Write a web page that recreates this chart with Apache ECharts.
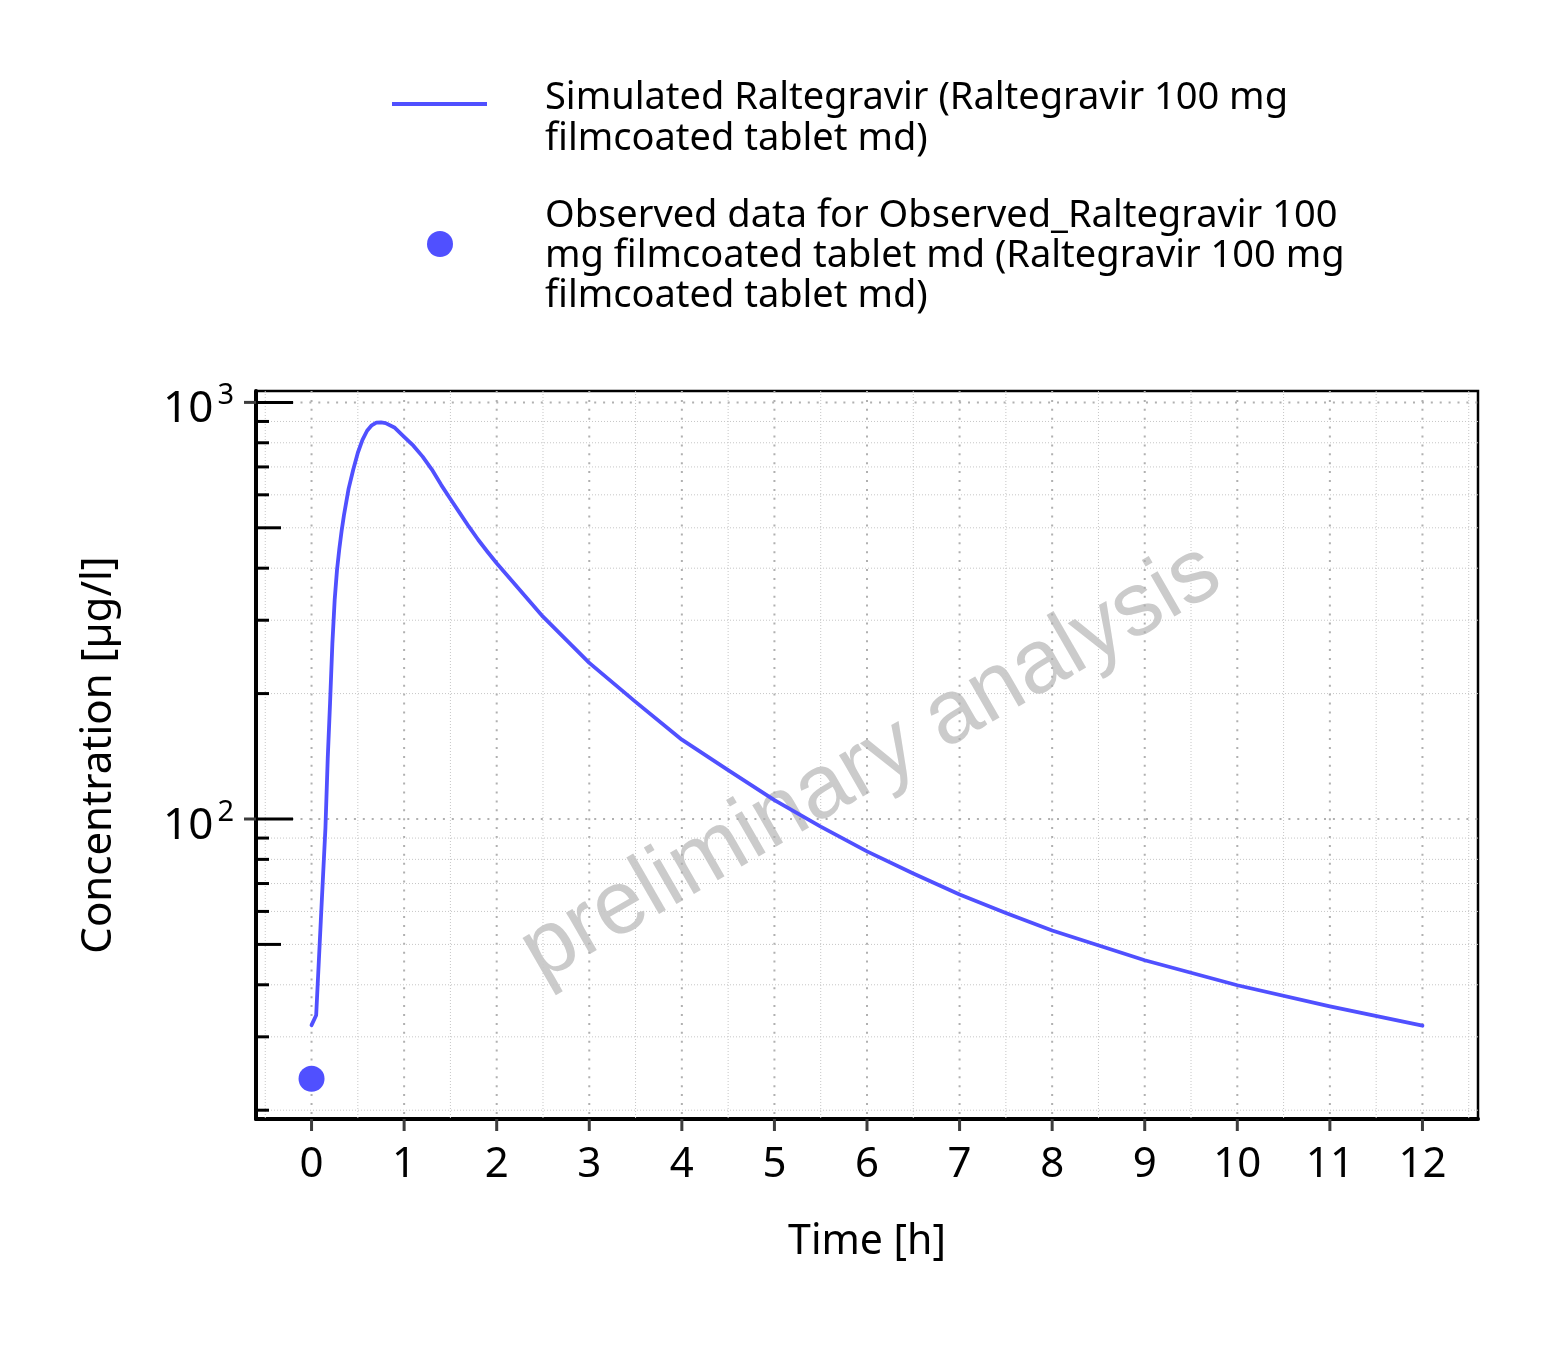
<!DOCTYPE html>
<html>
<head>
<meta charset="utf-8">
<script src="https://cdn.jsdelivr.net/npm/echarts@6/dist/echarts.min.js"></script>
<style>
html,body{margin:0;padding:0;background:#ffffff;}
#chart{width:1562px;height:1348px;}
</style>
</head>
<body>
<div id="chart"></div>
<script>
// ---------------- data ----------------
const timeH   = [0, 0.05, 0.1, 0.15, 0.175, 0.2, 0.225, 0.25, 0.275, 0.3, 0.325, 0.35, 0.4, 0.45, 0.5, 0.55, 0.6, 0.65, 0.7, 0.75, 0.8, 0.9, 1.0, 1.1, 1.2, 1.3, 1.4, 1.5, 1.6, 1.7, 1.8, 1.9, 2, 2.5, 3, 3.5, 4, 4.5, 5, 5.5, 6, 6.5, 7, 7.5, 8, 9, 10, 11, 12];
const simConc = [32.0, 33.8, 56.9, 95.1, 140, 190, 264, 336, 396, 445, 492, 536, 620, 689, 757, 813, 855, 881, 894, 895, 892, 869, 827, 787, 741, 690, 634, 586, 543, 503, 468, 438, 411, 306, 237, 191, 155, 131, 111, 95.9, 83.6, 74.0, 65.9, 59.5, 54.0, 45.8, 39.9, 35.5, 31.9];
const obsTime = [0];
const obsConc = [23.8];

const xTickValues   = [0, 1, 2, 3, 4, 5, 6, 7, 8, 9, 10, 11, 12];
const xMinorValues  = [-0.5, 0.5, 1.5, 2.5, 3.5, 4.5, 5.5, 6.5, 7.5, 8.5, 9.5, 10.5, 11.5, 12.5];
const yMajorValues  = [100, 1000];
const yMidValues    = [50, 500];
const yMinorValues  = [20, 30, 40, 60, 70, 80, 90, 200, 300, 400, 600, 700, 800, 900];

const seriesNames = [
  'Simulated Raltegravir (Raltegravir 100 mg\nfilmcoated tablet md)',
  'Observed data for Observed_Raltegravir 100\nmg filmcoated tablet md (Raltegravir 100 mg\nfilmcoated tablet md)'
];
const xAxisTitle = 'Time [h]';
const yAxisTitle = 'Concentration [µg/l]';
const watermarkText = 'preliminary analysis';

// ---------------- styling ----------------
const BLUE = '#5050ff';
const FONT = 'Noto Sans';
const majorGrid = { stroke: '#b0b0b0', lineWidth: 2, lineDash: [2, 6.9] };
const minorGrid = { stroke: '#c6c6c6', lineWidth: 1, lineDash: [1, 2] };

function vGrid(values, style) {
  return {
    type: 'custom', coordinateSystem: 'cartesian2d', silent: true, z: 1,
    data: values.map(v => [v, 100]),
    renderItem: function (params, api) {
      const cs = params.coordSys;
      const x = api.coord([api.value(0), 100])[0];
      return { type: 'line', shape: { x1: x, y1: cs.y, x2: x, y2: cs.y + cs.height }, style: style };
    }
  };
}
function hGrid(values, style) {
  return {
    type: 'custom', coordinateSystem: 'cartesian2d', silent: true, z: 1,
    data: values.map(v => [0, v]),
    renderItem: function (params, api) {
      const cs = params.coordSys;
      const y = api.coord([0, api.value(1)])[1];
      return { type: 'line', shape: { x1: cs.x, y1: y, x2: cs.x + cs.width, y2: y }, style: style };
    }
  };
}
function yTicks(values, inLen, outLen) {
  return {
    type: 'custom', coordinateSystem: 'cartesian2d', silent: true, z: 5,
    data: values.map(v => [0, v]),
    renderItem: function (params, api) {
      const cs = params.coordSys;
      const y = api.coord([0, api.value(1)])[1];
      const children = [{ type: 'line', shape: { x1: cs.x, y1: y, x2: cs.x + inLen, y2: y }, style: { stroke: '#000', lineWidth: 3 } }];
      if (outLen > 0) {
        children.push({ type: 'line', shape: { x1: cs.x - outLen, y1: y, x2: cs.x, y2: y }, style: { stroke: '#3c3c3c', lineWidth: 3 } });
      }
      return { type: 'group', children: children };
    }
  };
}
function xTicks(values, outLen) {
  return {
    type: 'custom', coordinateSystem: 'cartesian2d', silent: true, z: 5,
    data: values.map(v => [v, 100]),
    renderItem: function (params, api) {
      const cs = params.coordSys;
      const x = api.coord([api.value(0), 100])[0];
      const yb = cs.y + cs.height;
      return { type: 'line', shape: { x1: x, y1: yb, x2: x, y2: yb + outLen }, style: { stroke: '#3c3c3c', lineWidth: 3 } };
    }
  };
}

const chart = echarts.init(document.getElementById('chart'), null, { renderer: 'canvas' });

const option = {
  animation: false,
  backgroundColor: '#ffffff',
  grid: {
    left: 256, right: 84, top: 391, bottom: 229,
    show: true, borderColor: '#000', borderWidth: 2.5, backgroundColor: 'transparent'
  },
  xAxis: {
    type: 'value', min: -0.6, max: 12.6, splitNumber: 13,
    axisLine: { show: true, onZero: false, lineStyle: { color: '#000', width: 4 } },
    axisTick: { show: false },
    splitLine: { show: false },
    axisLabel: {
      margin: 25, fontSize: 42, fontFamily: FONT, color: '#000',
      formatter: function (v) { return Math.abs(v - Math.round(v)) < 1e-6 ? String(Math.round(v)) : ''; }
    },
    name: xAxisTitle, nameLocation: 'middle', nameGap: 103,
    nameTextStyle: { fontSize: 41, fontFamily: FONT, color: '#000' }
  },
  yAxis: {
    type: 'log', logBase: 10, min: 19.05, max: 1065,
    axisLine: { show: true, onZero: false, lineStyle: { color: '#000', width: 4 } },
    axisTick: { show: false },
    minorTick: { show: false },
    splitLine: { show: false },
    axisLabel: {
      margin: 22, color: '#000',
      formatter: function (v) {
        const e = Math.log10(v);
        if (Math.abs(e - Math.round(e)) < 1e-6) return '{b|10}{s|' + Math.round(e) + '}';
        return '';
      },
      rich: {
        b: { fontSize: 44, fontFamily: FONT, color: '#000', padding: [14, 0, 0, 0] },
        s: { fontSize: 29, fontFamily: FONT, color: '#000', verticalAlign: 'top', padding: [8, 0, 0, 4] }
      }
    },
    name: yAxisTitle, nameLocation: 'middle', nameGap: 136,
    nameTextStyle: { fontSize: 42, fontFamily: FONT, color: '#000' }
  },
  graphic: [
    { type: 'text', x: 871, y: 763, rotation: Math.PI / 6, z: 1, silent: true,
      style: { text: watermarkText, font: '90px "Liberation Sans"', fill: '#cbcbcb', align: 'center', verticalAlign: 'middle' } },
    { type: 'line', shape: { x1: 392, y1: 104, x2: 487, y2: 104 }, style: { stroke: BLUE, lineWidth: 3.8 } },
    { type: 'text', x: 545, y: 78, style: { text: seriesNames[0], font: '38px "Noto Sans"', lineHeight: 40.5, fill: '#000', verticalAlign: 'top' } },
    { type: 'circle', shape: { cx: 440, cy: 244, r: 13 }, style: { fill: BLUE } },
    { type: 'text', x: 545, y: 196, style: { text: seriesNames[1], font: '38px "Noto Sans"', lineHeight: 40, fill: '#000', verticalAlign: 'top' } }
  ],
  series: [
    vGrid(xMinorValues, minorGrid),
    vGrid(xTickValues, majorGrid),
    hGrid(yMinorValues.concat(yMidValues), minorGrid),
    hGrid(yMajorValues, majorGrid),
    yTicks(yMajorValues, 37, 12),
    yTicks(yMidValues, 25, 0),
    yTicks(yMinorValues, 13, 0),
    xTicks(xTickValues, 12),
    {
      type: 'line', name: seriesNames[0], z: 3,
      data: timeH.map((t, i) => [t, simConc[i]]),
      symbol: 'none', showSymbol: false, smooth: false,
      lineStyle: { color: BLUE, width: 3.8, join: 'round', cap: 'round' }
    },
    {
      type: 'scatter', name: seriesNames[1], z: 4,
      data: obsTime.map((t, i) => [t, obsConc[i]]),
      symbol: 'circle', symbolSize: 26,
      itemStyle: { color: BLUE, opacity: 1 }
    }
  ]
};
chart.setOption(option);
</script>
</body>
</html>
